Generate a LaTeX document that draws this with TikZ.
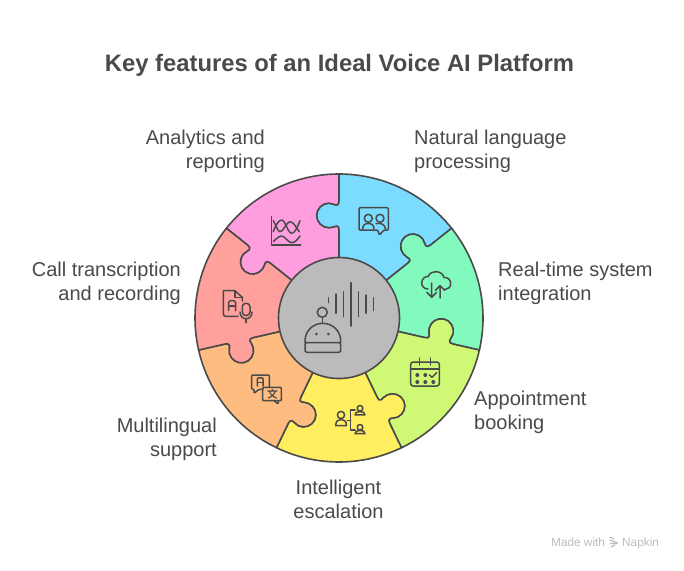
\documentclass[tikz,border=0pt]{standalone}
\usepackage{fontspec}
\setmainfont{Liberation Sans}
\definecolor{ink}{HTML}{4A4A4A}
\definecolor{pinkp}{HTML}{FF9EDE}
\definecolor{bluep}{HTML}{7BDCFF}
\definecolor{greenp}{HTML}{82FABE}
\definecolor{limep}{HTML}{CFF975}
\definecolor{yellowp}{HTML}{FFEE60}
\definecolor{orangep}{HTML}{FFBC80}
\definecolor{redp}{HTML}{FFA09C}
\definecolor{corep}{HTML}{BBBBBB}
\definecolor{wm}{HTML}{BDBDBD}
\tikzset{
  piecestyle/.style={draw=ink,line width=1.6pt,line join=round},
  iconline/.style={draw=ink,line width=1.5pt,line cap=round,line join=round},
  bodytext/.style={text=ink,inner sep=0pt,font=\fontsize{20}{24}\selectfont},
  titletext/.style={text=ink,inner sep=0pt,font=\fontsize{23.8}{28}\selectfont\bfseries},
  marktext/.style={text=wm,inner sep=0pt,font=\fontsize{11.8}{14}\selectfont},
}
% seam, inner to outer, knob on the counter-clockwise side
\newcommand{\seamout}[1]{
  -- ([rotate=#1]88,0)
  .. controls ([rotate=#1]90.5,0) and ([rotate=#1]92.4,0.5) .. ([rotate=#1]92,2.5)
  .. controls ([rotate=#1]91.6,4.5) and ([rotate=#1]90.3,6.5) .. ([rotate=#1]90.3,10)
  .. controls ([rotate=#1]90.3,16.7) and ([rotate=#1]95.8,22.3) .. ([rotate=#1]102.5,22.3)
  .. controls ([rotate=#1]109.2,22.3) and ([rotate=#1]114.7,16.7) .. ([rotate=#1]114.7,10)
  .. controls ([rotate=#1]114.7,6.5) and ([rotate=#1]112.6,4.5) .. ([rotate=#1]112.8,2.5)
  .. controls ([rotate=#1]113,0.5) and ([rotate=#1]114.5,0) .. ([rotate=#1]117,0)
  -- ([rotate=#1]144,0)}
% the same seam, outer to inner
\newcommand{\seamback}[1]{
  -- ([rotate=#1]117,0)
  .. controls ([rotate=#1]114.5,0) and ([rotate=#1]113,0.5) .. ([rotate=#1]112.8,2.5)
  .. controls ([rotate=#1]112.6,4.5) and ([rotate=#1]114.7,6.5) .. ([rotate=#1]114.7,10)
  .. controls ([rotate=#1]114.7,16.7) and ([rotate=#1]109.2,22.3) .. ([rotate=#1]102.5,22.3)
  .. controls ([rotate=#1]95.8,22.3) and ([rotate=#1]90.3,16.7) .. ([rotate=#1]90.3,10)
  .. controls ([rotate=#1]90.3,6.5) and ([rotate=#1]91.6,4.5) .. ([rotate=#1]92,2.5)
  .. controls ([rotate=#1]92.4,0.5) and ([rotate=#1]90.5,0) .. ([rotate=#1]88,0)
  -- ([rotate=#1]58,0)}
\newcommand{\piece}[3]{% from angle, to angle, colour
  \filldraw[piecestyle,fill=#3] ([rotate=#1]58,0) \seamout{#1}
    arc[start angle=#1,end angle=#2,radius=144]
    \seamback{#2} -- cycle;}
\begin{document}
\begin{tikzpicture}[x=1pt,y=-1pt]
\useasboundingbox[fill=white] (0,0) rectangle (684,570);
\begin{scope}[y=1pt,shift={(339,-318)}]
  \piece{90}{141.4286}{pinkp}
  \piece{38.5714}{90}{bluep}
  \piece{-12.8571}{38.5714}{greenp}
  \piece{-64.2857}{-12.8571}{limep}
  \piece{-115.7143}{-64.2857}{yellowp}
  \piece{-167.1429}{-115.7143}{orangep}
  \piece{141.4286}{192.8571}{redp}
  \filldraw[piecestyle,fill=corep] (0,0) circle[radius=60.5];
\end{scope}

% centre icon
\foreach \xx/\ya/\yb in {328.7/297.7/302.7,336/294/313.3,343.7/291.7/316.7,351/282.7/326,358.7/291.7/316.7,366/295/313.3,373.7/297.7/310.7}
  \draw[iconline] (\xx,\ya) -- (\xx,\yb);
\draw[iconline] (322.3,312.3) circle[radius=5];
\draw[iconline] (322.3,317.3) -- (322.3,323.3);
\draw[iconline] (305,342.7) -- (305,341) .. controls (305,331) and (313,323.3) .. (322.8,323.3)
  .. controls (332.6,323.3) and (340.7,331) .. (340.7,341) -- (340.7,342.7);
\draw[iconline,rounded corners=1.5pt] (305,342.7) rectangle (340.7,352.3);
\fill[ink] (316.3,334) circle[radius=1.5] (328.3,334) circle[radius=1.5];

% analytics
\draw[iconline] (271.3,216.7) -- (271.3,245) -- (300.7,245);
\draw[iconline] (273.3,231.7) .. controls (276,224) and (279,220) .. (281.7,220) .. controls (285,220) and (288,233.3) .. (291.7,233.3) .. controls (295,233.3) and (298,226) .. (300,220.7);
\draw[iconline] (273.3,220.7) .. controls (275.5,224) and (277.5,231.7) .. (280,231.7) .. controls (283.5,231.7) and (286.5,221.7) .. (290,221.7) .. controls (293.5,221.7) and (296.5,228) .. (299.3,231.7);
\draw[iconline] (273.3,241.7) .. controls (276,239) and (279,236) .. (281.7,236) .. controls (285,236) and (288,242.7) .. (291.7,242.7) .. controls (295,242.7) and (298,239) .. (300,236);

% document + mic
\draw[iconline] (238,316.3) -- (225,316.3) -- (223.3,314.6) -- (223.3,290.7) -- (235,290.7) -- (242.3,297.3) -- (242.3,301);
\draw[iconline] (235,290.7) -- (235,297.3) -- (242.3,297.3);
\draw[iconline,rounded corners=1.5pt] (228.7,310.5) -- (228.7,300.7) -- (235.5,300.7) -- (235.5,310.5);
\draw[iconline] (228.7,306) -- (235.5,306);
\draw[iconline,rounded corners=3.5pt] (242.3,303.3) rectangle (250,315.5);
\draw[iconline] (240,312) .. controls (240,321) and (252,321) .. (252,312);
\draw[iconline] (246,319) -- (246,322.5);

% people in frame
\draw[iconline,rounded corners=1pt] (377.7,230) -- (359,230) -- (359,207.7) -- (388.3,207.7) -- (388.3,230) -- (384,230) -- (379.3,235) -- cycle;
\draw[iconline] (368.3,218.3) circle[radius=4] (380,218.3) circle[radius=4];
\draw[iconline] (362.7,229) .. controls (362.7,225) and (365,223.5) .. (368.3,223.5) .. controls (371.6,223.5) and (374,225) .. (374,229);
\draw[iconline] (376,223.7) .. controls (381,222.5) and (385,224.5) .. (385.5,229);

% cloud
\draw[iconline] (428,289) .. controls (423,289) and (421.7,285) .. (421.7,283) .. controls (421.7,279) and (425,276) .. (428,276.5)
  .. controls (430,272.5) and (433,271.7) .. (436,271.7) .. controls (440,271.7) and (443,274) .. (444,277.5)
  .. controls (448,277) and (450.7,280) .. (450.7,283.5) .. controls (450.7,287) and (448,289.5) .. (445,289.5);
\draw[iconline] (431.7,283) -- (431.7,297.3) (427,292.5) -- (431.7,297.3) -- (436.4,292.5);
\draw[iconline] (440,298) -- (440,285.7) (435.5,290.3) -- (440,285.7) -- (444.8,290.3);

% calendar
\draw[iconline,rounded corners=2.5pt] (410.7,362) rectangle (439.3,386);
\draw[iconline] (410.7,369) -- (439.3,369);
\draw[iconline] (419.3,358) -- (419.3,365) (430.7,358) -- (430.7,365);
\fill[ink] (417.3,375) circle[radius=2] (425.3,375) circle[radius=2]
  (417.3,382) circle[radius=2] (425.3,382) circle[radius=2] (433.3,382) circle[radius=2];
\draw[iconline] (429.5,375) -- (432,377.3) -- (436.7,372.7);

% escalation
\draw[iconline] (341,415) circle[radius=3.6];
\draw[iconline] (335.7,425.7) .. controls (335.7,421) and (338,419.5) .. (341,419.5) .. controls (344,419.5) and (346.5,421) .. (346.5,425.7) -- cycle;
\draw[iconline] (355,410) -- (350.7,410) -- (350.7,430) -- (355,430) (347.3,420.7) -- (350.7,420.7);
\draw[iconline] (360,408.3) circle[radius=2.8];
\draw[iconline] (355,414.8) .. controls (355,412.5) and (357,411.6) .. (360,411.6) .. controls (363,411.6) and (365,412.5) .. (365,414.8) -- cycle;
\draw[iconline] (360,427.3) circle[radius=2.8];
\draw[iconline] (355,433.6) .. controls (355,431.3) and (357,430.4) .. (360,430.4) .. controls (363,430.4) and (365,431.3) .. (365,433.6) -- cycle;

% translation bubbles
\draw[iconline,rounded corners=1pt] (262.7,389.3) -- (259,389.3) -- (254,393.3) -- (254,389.3) -- (251.7,389.3) -- (251.7,375) -- (269.3,375) -- (269.3,387.3);
\draw[iconline,rounded corners=1pt] (262.7,387.3) rectangle (281.3,400.7);
\draw[iconline,rounded corners=1pt] (274,400.7) -- (278.3,404) -- (278.3,400.7);
\draw[iconline,rounded corners=1pt] (257.3,386) -- (257.3,377.8) -- (263,377.8) -- (263,386);
\draw[iconline,line width=1.1pt] (257.3,382.3) -- (263,382.3);
\draw[iconline,line width=1.1pt] (272.3,389.3) -- (272.3,390.7) (267.7,391) -- (277,391) (275.3,391) .. controls (274.5,394.5) and (271,397) .. (268.3,398) (269.3,391) .. controls (270.3,394.5) and (273.5,397) .. (276.5,398);

% texts
\node[titletext] (title) at (339.5,65.5) {Key features of an Ideal Voice AI Platform};
\node[bodytext,anchor=east,align=right] (analytics) at (265,151.5) {Analytics and\\reporting};
\node[bodytext,anchor=west,align=left] (nlp) at (414,151.5) {Natural language\\processing};
\node[bodytext,anchor=west,align=left] (realtime) at (498,283.5) {Real-time system\\integration};
\node[bodytext,anchor=west,align=left] (booking) at (474,412.5) {Appointment\\booking};
\node[bodytext,align=center] (escal) at (338.5,499) {Intelligent\\escalation};
\node[bodytext,anchor=east,align=right] (multi) at (217,439.5) {Multilingual\\support};
\node[bodytext,anchor=east,align=right] (call) at (181,283.5) {Call transcription\\and recording};

% watermark
\node[marktext,anchor=base west] (made) at (551,546) {Made with};
\node[marktext,anchor=base west] (napkin) at (622,546) {Napkin};
\draw[wm,line width=1.2pt] (609.5,537) -- (614,539) (609.5,540) -- (618,543) (610,543.5) -- (617,543.5) (611,547) -- (615,545);
\end{tikzpicture}
\end{document}
